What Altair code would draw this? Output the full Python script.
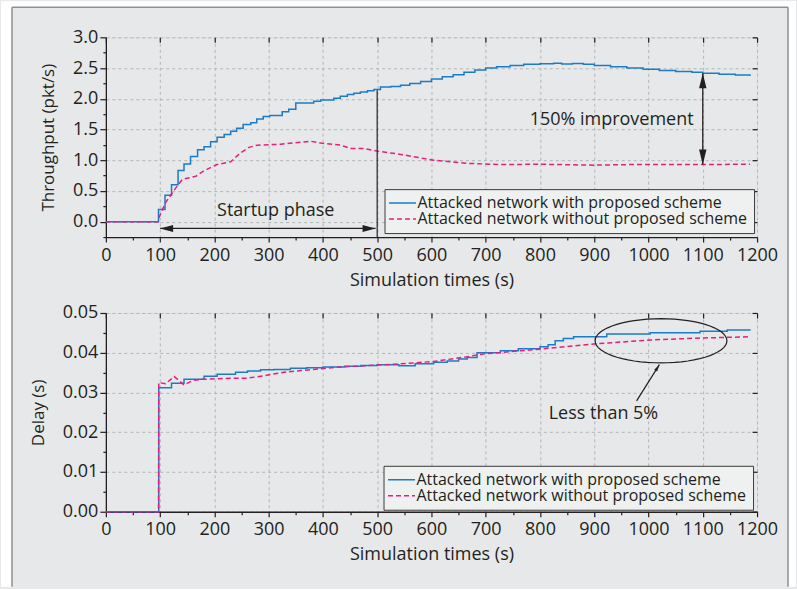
import math
import altair as alt
import pandas as pd

FONT = "Open Sans"
INK = "#231f20"
BLUE = "#1b7bc6"
PINK = "#e61e7c"
S1 = "Attacked network with proposed scheme"
S2 = "Attacked network without proposed scheme"

# ---- Throughput panel data ----
thr_with_t = [0, 97, 109, 121, 133, 144, 156, 169, 181, 193, 205, 218, 230, 241, 253, 267, 278, 290, 302, 325,
              337, 350, 383, 396, 420, 432, 445, 457, 469, 482, 494, 506, 525, 543, 560, 580, 600, 620, 640, 660,
              680, 700, 720, 745, 770, 800, 825, 840, 860, 880, 900, 930, 960, 990, 1020, 1050, 1080, 1100, 1130, 1160,
              1187]
thr_with_v = [0, 0.20, 0.43, 0.60, 0.835, 0.94, 1.06, 1.17, 1.22, 1.30, 1.375, 1.42, 1.47, 1.52, 1.58, 1.61, 1.67, 1.71, 1.73, 1.79,
              1.83, 1.93, 1.96, 1.98, 2.01, 2.04, 2.07, 2.09, 2.11, 2.13, 2.15, 2.19, 2.20, 2.22, 2.25, 2.28, 2.32, 2.36, 2.39, 2.43,
              2.47, 2.50, 2.52, 2.54, 2.56, 2.57, 2.58, 2.565, 2.575, 2.56, 2.54, 2.52, 2.50, 2.48, 2.46, 2.445, 2.43, 2.415, 2.40, 2.385,
              2.37]
thr_without_t = [0, 96, 98, 110, 129, 141, 166, 181, 205, 230, 248, 264, 279, 322, 377, 396, 433, 451, 475, 500,
                 543, 604, 666, 727, 800, 899, 972, 1100, 1187]
thr_without_v = [0, 0, 0.07, 0.31, 0.55, 0.69, 0.74, 0.83, 0.93, 0.975, 1.12, 1.21, 1.245, 1.26, 1.31, 1.28, 1.245, 1.19, 1.19, 1.15,
                 1.095, 1.0, 0.95, 0.93, 0.935, 0.92, 0.93, 0.93, 0.935]

# ---- Delay panel data ----
del_with_t = [0, 97.5, 121, 144, 181, 205, 239, 261, 285, 310, 340, 370, 400, 440, 470, 500, 540, 570, 604, 629,
              650, 666, 684, 727, 760, 800, 815, 828, 843, 862, 923, 1003, 1095, 1145, 1187]
del_with_v = [0, 0.0312, 0.0323, 0.0333, 0.0341, 0.0346, 0.0351, 0.0354, 0.0357, 0.0358, 0.0361, 0.0362, 0.0364, 0.0366,
              0.0368, 0.0370, 0.0367, 0.0372, 0.0376, 0.0379, 0.0384, 0.0388, 0.0400, 0.0405, 0.0410, 0.0415, 0.0420,
              0.0430, 0.0436, 0.0440, 0.0447, 0.0450, 0.0454, 0.0457, 0.0456]
del_without_t = [0, 97, 97.5, 110, 126, 144, 160, 175, 236, 261, 291, 328, 359, 420, 500, 543, 604, 666, 696, 800,
                 899, 1003, 1095, 1185]
del_without_v = [0, 0, 0.0325, 0.0322, 0.0340, 0.0319, 0.0330, 0.0333, 0.0336, 0.0336, 0.0342, 0.0351, 0.0355, 0.0363,
                 0.0369, 0.0372, 0.0378, 0.0390, 0.0397, 0.0409, 0.0422, 0.0432, 0.0437, 0.0440]

# ---- ticks and annotations ----
x_ticks = list(range(0, 1201, 100))
x_minor = list(range(50, 1200, 100))
thr_ticks = [0.0, 0.5, 1.0, 1.5, 2.0, 2.5, 3.0]
thr_minor = [-0.25, 0.25, 0.75, 1.25, 1.75, 2.25, 2.75]
del_ticks = [0.0, 0.01, 0.02, 0.03, 0.04, 0.05]
del_minor = [0.005, 0.015, 0.025, 0.035, 0.045]

startup_text = {"t": [313], "v": [0.17], "label": ["Startup phase"]}
startup_arrow = {"t": [100], "t2": [497], "v": [-0.11]}
startup_rule = {"t": [500], "v": [-0.25], "v2": [2.14]}
improve_text = {"t": [932], "v": [1.66], "label": ["150% improvement"]}
improve_arrow = {"t": [1100], "v": [0.93], "v2": [2.415]}
ellipse_pt = {"t": [1023], "v": [0.0430]}
less_text = {"t": [917], "v": [0.0246], "label": ["Less than 5%"]}
less_arrow = {"t": [978], "v": [0.0279], "t2": [1020], "v2": [0.0370]}


def df(t, v, name):
    return pd.DataFrame({"t": t, "v": v, "series": name})


x_scale = alt.Scale(domain=[0, 1200], nice=False, zero=False)
y1_scale = alt.Scale(domain=[-0.25, 3.0], nice=False, zero=False)
y2_scale = alt.Scale(domain=[0, 0.05], nice=False, zero=False)
color_scale = alt.Scale(domain=[S1, S2], range=[BLUE, PINK])
dash_scale = alt.Scale(domain=[S1, S2], range=[[1, 0], [5, 3]])

common_axis = dict(domainColor=INK, tickColor=INK, labelColor=INK, titleColor=INK, labelFont=FONT, titleFont=FONT,
                   labelFontSize=18, titleFontWeight="normal", domainWidth=1.3, tickWidth=1.2)


def main_x():
    return alt.Axis(orient="bottom", values=x_ticks, title="Simulation times (s)", grid=True, gridDash=[3, 3],
                    gridColor="#b2b6b5", gridWidth=1, tickSize=5, labelPadding=4, titlePadding=7, titleFontSize=18,
                    labelFlush=False, labelOverlap=False, labelBound=False, format="d", **common_axis)


def minor_x():
    return alt.Axis(orient="bottom", values=x_minor, labels=False, grid=False, domain=False, tickSize=3,
                    tickColor=INK, tickWidth=1.2, title=None)


def top_x():
    return alt.Axis(orient="top", values=x_ticks, labels=False, grid=False, domain=False, tickSize=5, offset=-5,
                    tickColor=INK, tickWidth=1.2, title=None)


def main_y(ticks, fmt, title):
    return alt.Axis(orient="left", values=ticks, format=fmt, title=title, grid=True, gridDash=[3, 3],
                    gridColor="#b2b6b5", gridWidth=1, tickSize=6, labelPadding=2, titlePadding=15, titleFontSize=17,
                    labelOverlap=False, labelFlush=False, labelBound=False, **common_axis)


def minor_y(ticks):
    return alt.Axis(orient="left", values=ticks, labels=False, grid=False, domain=False, tickSize=3,
                    tickColor=INK, tickWidth=1.2, title=None)


def right_y(ticks):
    return alt.Axis(orient="right", values=ticks, labels=False, grid=False, domain=False, tickSize=5, offset=-5,
                    tickColor=INK, tickWidth=1.2, title=None)


def legend(x, y):
    return alt.Legend(title=None, orient="none", legendX=x, legendY=y, symbolType="M-1.9,0L3.5,0",
                      symbolSize=100, symbolStrokeWidth=1.5, labelFontSize=16, labelFont=FONT, labelColor=INK,
                      labelOffset=11, labelLimit=0, rowPadding=0, padding=6, fillColor="#eef1f0",
                      strokeColor="#3a3a3a", symbolOffset=0)


ARROW_L = "M0,0L2,-0.55L2,0.55Z"
ARROW_R = "M0,0L-2,-0.55L-2,0.55Z"
ARROW_U = "M0,0L-0.5,2L0.5,2Z"
ARROW_D = "M0,0L-0.5,-2L0.5,-2Z"
# outline of the annotation ellipse (unit width 2, aspect 0.335) as a symbol path
ELLIPSE = "M" + "L".join(
    f"{math.cos(math.radians(a)):.4f},{0.335 * math.sin(math.radians(a)):.4f}" for a in range(0, 360, 6)) + "Z"
ELLIPSE_WIDTH_PX = 132


def panel(d_with, d_without, yscale, yticks, yminor, yfmt, ytitle, leg, extra):
    X = lambda ax, f="t": alt.X(f"{f}:Q", scale=x_scale, axis=ax)
    Y = lambda ax, f="v": alt.Y(f"{f}:Q", scale=yscale, axis=ax)
    blue = alt.Chart(d_with).mark_line(interpolate="step-after", strokeWidth=1.5).encode(
        x=X(main_x()), y=Y(main_y(yticks, yfmt, ytitle)),
        color=alt.Color("series:N", scale=color_scale, legend=leg),
        strokeDash=alt.StrokeDash("series:N", scale=dash_scale, legend=leg))
    pink = alt.Chart(d_without).mark_line(strokeWidth=1.5).encode(
        x=X(minor_x()), y=Y(minor_y(yminor)),
        color=alt.Color("series:N", scale=color_scale, legend=leg),
        strokeDash=alt.StrokeDash("series:N", scale=dash_scale, legend=leg))
    # invisible carrier of the mirrored top / right ticks
    mirror = alt.Chart(d_with).mark_point(opacity=0).encode(x=X(top_x()), y=Y(right_y(yticks)))
    return [blue, pink, mirror] + [e(X, Y) for e in extra]


def txt(data):
    def f(X, Y):
        return alt.Chart(pd.DataFrame(data)).mark_text(font=FONT, fontSize=18, color=INK).encode(
            x=X(None), y=Y(None), text="label:N")
    return f


def vrule(data, color=INK, width=1.3):
    def f(X, Y):
        return alt.Chart(pd.DataFrame(data)).mark_rule(color=color, strokeWidth=width).encode(
            x=X(None), y=Y(None), y2="v2:Q")
    return f


def hrule(data):
    def f(X, Y):
        return alt.Chart(pd.DataFrame(data)).mark_rule(color=INK, strokeWidth=1.3).encode(
            x=X(None), x2="t2:Q", y=Y(None))
    return f


def head(t, v, shape, size, angle=0):
    def f(X, Y):
        return alt.Chart(pd.DataFrame({"t": [t], "v": [v]})).mark_point(
            shape=shape, size=size, filled=True, color=INK, opacity=1, strokeWidth=0, angle=angle).encode(
            x=X(None), y=Y(None))
    return f


def ellipse(X, Y):
    return alt.Chart(pd.DataFrame(ellipse_pt)).mark_point(
        shape=ELLIPSE, size=ELLIPSE_WIDTH_PX ** 2, filled=False, color=INK, opacity=1, strokeWidth=1.2).encode(
        x=X(None), y=Y(None))


def slanted(X, Y):
    return alt.Chart(pd.DataFrame(less_arrow)).mark_rule(color=INK, strokeWidth=1.2).encode(
        x=X(None), y=Y(None), x2="t2:Q", y2="v2:Q")


one = pd.DataFrame({"a": [0]})
FRAME = "#8d8f91"
decor = [
    alt.Chart(one).mark_rect(color="white").encode(x=alt.value(-105), x2=alt.value(-94), y=alt.value(-36), y2=alt.value(550)),
    alt.Chart(one).mark_rect(color="white").encode(x=alt.value(-105), x2=alt.value(691), y=alt.value(-36), y2=alt.value(-30)),
    alt.Chart(one).mark_rect(color="white").encode(x=alt.value(683), x2=alt.value(691), y=alt.value(-36), y2=alt.value(550)),
    alt.Chart(one).mark_rule(color=FRAME, strokeWidth=1.5).encode(x=alt.value(-94), y=alt.value(-30), y2=alt.value(550)),
    alt.Chart(one).mark_rule(color=FRAME, strokeWidth=1.5).encode(x=alt.value(-94), x2=alt.value(683), y=alt.value(-30)),
    alt.Chart(one).mark_rule(color=FRAME, strokeWidth=1.5).encode(x=alt.value(683), y=alt.value(-30), y2=alt.value(550)),
]

top_layers = panel(
    df(thr_with_t, thr_with_v, S1), df(thr_without_t, thr_without_v, S2), y1_scale, thr_ticks, thr_minor, ".1f",
    "Throughput (pkt/s)", legend(279, 152),
    [vrule(startup_rule, color="#333333"), hrule(startup_arrow),
     head(startup_arrow["t"][0], startup_arrow["v"][0], ARROW_L, 169),
     head(startup_arrow["t2"][0], startup_arrow["v"][0], ARROW_R, 169),
     txt(startup_text),
     vrule(improve_arrow),
     head(improve_arrow["t"][0], improve_arrow["v2"][0], ARROW_U, 225),
     head(improve_arrow["t"][0], improve_arrow["v"][0], ARROW_D, 225),
     txt(improve_text)])

bottom_layers = panel(
    df(del_with_t, del_with_v, S1), df(del_without_t, del_without_v, S2), y2_scale, del_ticks, del_minor, ".2f",
    "Delay (s)", legend(278, 153),
    [ellipse, slanted, head(less_arrow["t2"][0], less_arrow["v2"][0], ARROW_U, 49, angle=32), txt(less_text)])

top = alt.layer(*decor, *top_layers).resolve_axis(x="independent", y="independent").properties(width=652, height=200)
bottom = alt.layer(*bottom_layers).resolve_axis(x="independent", y="independent").properties(width=652, height=199)

chart = alt.vconcat(top, bottom, spacing=76, bounds="flush").resolve_legend(
    color="independent", strokeDash="independent").properties(
    padding=0, background="#e7e8e9").configure_view(fill="#dbe0df", stroke=INK, strokeWidth=1.3).configure(font=FONT)

chart.save("out.html", embed_options={"renderer": "svg", "actions": False})
